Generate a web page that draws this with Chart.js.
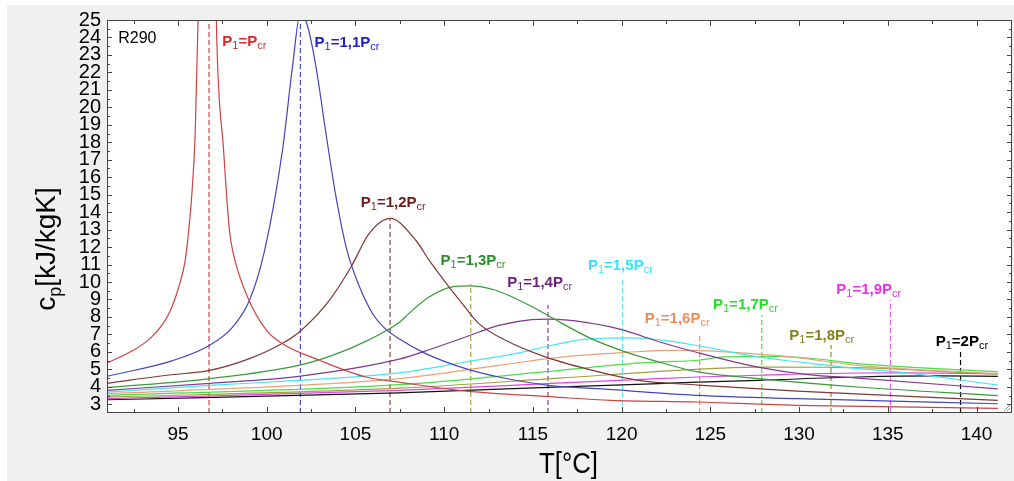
<!DOCTYPE html>
<html><head><meta charset="utf-8">
<script src="https://cdn.jsdelivr.net/npm/chart.js@4.4.1/dist/chart.umd.min.js"></script>
<style>html,body{margin:0;padding:0;background:#fff;overflow:hidden}</style>
</head><body>
<canvas id="c" width="1014" height="481" style="display:block;width:1014px;height:481px"></canvas>
<script>
const FONT = '"Liberation Sans", Arial, sans-serif';
const xMin = 91, xMax = 142, yMin = 2.5, yMax = 25;
const xTicks = [95, 100, 105, 110, 115, 120, 125, 130, 135, 140];
const yTicks = [3,4,5,6,7,8,9,10,11,12,13,14,15,16,17,18,19,20,21,22,23,24,25];
const xTitle = 'T[°C]';
const yTitleMain = 'c', yTitleSub = 'p', yTitleRest = '[kJ/kgK]';
const fluidName = 'R290';

// series: P1 = k * Pcr
const seriesNames = ['P1=Pcr','P1=1,1Pcr','P1=1,2Pcr','P1=1,3Pcr','P1=1,4Pcr','P1=1,5Pcr','P1=1,6Pcr','P1=1,7Pcr','P1=1,8Pcr','P1=1,9Pcr','P1=2Pcr'];

const tP10 = [91, 92.48, 93.42, 94.16, 94.63, 95.1, 95.4, 95.6, 95.8, 95.97, 96.13, 96.45, 96.75, 96.95, 97.16, 97.57, 97.9, 98.08, 98.92, 99.99, 100.89, 102.97, 105.59, 107.46, 110.8, 116.3, 119.4, 124.3, 129.9, 141.2];
const cpP10 = [5.36, 6.09, 6.76, 7.62, 8.5, 9.9, 11.2, 12.9, 15.3, 18.5, 25, 38, 60, 40, 25, 17.55, 12.97, 11.8, 9.14, 7.23, 6.47, 5.52, 4.56, 4.27, 3.8, 3.41, 3.22, 3.13, 2.94, 2.77];

const tP11 = [91, 94.7, 96.79, 98.08, 99.03, 99.88, 100.89, 101.45, 101.9, 102.29, 102.78, 103.34, 103.9, 104.5, 105.2, 105.96, 106.6, 107.46, 108.96, 111.21, 113.08, 115.89, 118.7, 124.3, 129.9, 141.2];
const cpP11 = [4.6, 5.5, 6.38, 7.42, 8.95, 11.8, 17.55, 22.3, 25.4, 24.7, 22.3, 18.5, 14.9, 11.9, 9.8, 8.2, 7.4, 6.75, 5.9, 5.04, 4.56, 4.08, 3.89, 3.51, 3.32, 3.03];

const tP12 = [91, 94.35, 96.79, 99.03, 100.89, 101.84, 103.53, 104.75, 105.78, 106.96, 108.4, 109.15, 110.27, 111.02, 111.96, 113.46, 115.7, 118.7, 120.94, 124.3, 129.9, 141.2];
const cpP12 = [4.2, 4.66, 4.94, 5.61, 6.49, 7.14, 8.95, 10.86, 12.78, 13.64, 12.39, 11.25, 9.72, 8.76, 7.62, 6.66, 5.71, 4.85, 4.37, 4.1, 3.75, 3.22];

const tP13 = [91, 96.8, 101.8, 103.7, 105.7, 107.5, 108.0, 109.15, 110.46, 111.4, 112.9, 114.8, 115.9, 118.2, 120.2, 122.1, 124.3, 127.7, 133.3, 141.2];
const cpP13 = [3.95, 4.47, 5.23, 5.8, 6.66, 7.71, 8.19, 9.14, 9.72, 9.78, 9.53, 8.67, 8.05, 6.8, 6.0, 5.42, 4.85, 4.47, 3.99, 3.5];

const tP14 = [91, 96.8, 101.8, 107.46, 109.31, 111.21, 113.08, 114.93, 115.9, 117.39, 119.9, 122.2, 124.31, 127.69, 130.49, 133.3, 141.2];
const cpP14 = [3.8, 4.2, 4.6, 5.58, 6.18, 6.85, 7.52, 7.85, 7.88, 7.77, 7.3, 6.55, 5.95, 5.13, 4.7, 4.5, 3.88];

const tP15 = [91, 96.8, 101.8, 107.46, 111.21, 114.0, 116.1, 117.74, 119.0, 120.55, 122.44, 124.31, 127.69, 130.0, 133.3, 135.55, 141.2];
const cpP15 = [3.7, 4.08, 4.37, 4.8, 5.42, 5.9, 6.38, 6.7, 6.78, 6.8, 6.66, 6.35, 5.71, 5.42, 5.04, 4.85, 4.1];

const tP16 = [91, 101.8, 107.46, 113.08, 116.6, 120.4, 122.8, 124.3, 125.8, 129.54, 133.3, 141.2];
const cpP16 = [3.61, 4.08, 4.47, 5.23, 5.7, 5.98, 6.09, 6.08, 6.0, 5.71, 5.23, 4.75];

const tP17 = [91, 107.46, 115.6, 120.55, 122.07, 124.31, 125.81, 128.62, 130.5, 133.3, 141.2];
const cpP17 = [3.51, 4.12, 4.85, 5.33, 5.42, 5.52, 5.71, 5.74, 5.65, 5.33, 4.85];

const tP18 = [91, 107.46, 116.5, 123.2, 127.69, 131.5, 133.3, 141.2];
const cpP18 = [3.41, 3.92, 4.5, 4.94, 5.13, 5.12, 5.1, 4.72];

const tP19 = [91, 107.46, 116.6, 122.07, 124.31, 127.69, 133.3, 136.0, 141.2];
const cpP19 = [3.32, 3.8, 4.22, 4.47, 4.56, 4.66, 4.79, 4.8, 4.75];

const tP20 = [91, 107.46, 116.6, 122.07, 124.31, 127.69, 133.3, 138.0, 141.2];
const cpP20 = [3.26, 3.65, 4.0, 4.18, 4.27, 4.37, 4.56, 4.62, 4.6];

const curveColors = ['#cc4444','#4646bc','#803838','#3a9a3a','#80398f','#44e6f0','#f0a078','#44e044','#a0a040','#e044e0','#111111'];

// vertical dashed markers at each peak temperature
const peakT   = [96.75, 101.9, 106.95, 111.5, 115.85, 120.05, 124.4, 127.9, 131.8, 135.15, 139.1];
const peakTop = [25, 25, 13.6, 9.9, 8.7, 10.3, 7.1, 8.1, 6.4, 8.95, 6.1];
const dashColors = ['#d04040','#4a4ad0','#8a4a30','#b0a040','#9040a0','#60e8f0','#f09060','#40e040','#909030','#f060f0','#000000'];

// labels
const labelT    = [97.5, 102.7, 105.3, 109.8, 113.55, 118.1, 121.3, 125.15, 129.45, 132.1, 137.7];
const labelCp   = [23.53, 23.47, 14.3, 10.96, 9.72, 10.71, 7.65, 8.48, 6.7, 9.3, 6.32];
const labelCoef = ['', '1,1', '1,2', '1,3', '1,4', '1,5', '1,6', '1,7', '1,8', '1,9', '2'];
const labelColors = ['#d42a2a','#2020c8','#6e1c1c','#2e8b2e','#6e1f7e','#30e8f8','#f08a5a','#22e022','#828224','#e830e8','#000000'];

const curveT  = [tP10,tP11,tP12,tP13,tP14,tP15,tP16,tP17,tP18,tP19,tP20];
const curveCp = [cpP10,cpP11,cpP12,cpP13,cpP14,cpP15,cpP16,cpP17,cpP18,cpP19,cpP20];

const datasets = [];
curveT.forEach((t, i) => {
  datasets.push({
    label: seriesNames[i],
    data: t.map((v, j) => ({x: v, y: curveCp[i][j]})),
    borderColor: curveColors[i], borderWidth: 1.2, pointRadius: 0,
    cubicInterpolationMode: 'monotone', fill: false
  });
});
peakT.forEach((t, i) => {
  datasets.push({
    label: seriesNames[i] + ' peak',
    data: [{x: t, y: yMin}, {x: t, y: peakTop[i]}],
    borderColor: dashColors[i], borderWidth: 1.2, borderDash: [5, 3],
    pointRadius: 0, tension: 0, fill: false
  });
});

const bgPlugin = {
  id: 'bg',
  beforeDraw(chart) {
    const {ctx, chartArea: a} = chart;
    ctx.save();
    ctx.fillStyle = '#ffffff'; ctx.fillRect(0, 0, chart.width, chart.height);
    ctx.fillStyle = '#f0f0f0'; ctx.fillRect(7, 5, chart.width - 7, chart.height - 5);
    ctx.fillStyle = '#ffffff'; ctx.fillRect(a.left, a.top, a.right - a.left, a.bottom - a.top);
    ctx.restore();
  }
};

function drawRich(ctx, x, y, parts) {
  let cx = x;
  parts.forEach(p => {
    ctx.font = p.font;
    ctx.fillText(p.t, cx, y + (p.dy || 0));
    cx += ctx.measureText(p.t).width;
  });
}

const decoPlugin = {
  id: 'deco',
  afterDraw(chart) {
    const {ctx, chartArea: a, scales: {x, y}} = chart;
    ctx.save();
    // frame
    ctx.strokeStyle = '#444'; ctx.lineWidth = 1;
    ctx.strokeRect(a.left + 0.5, a.top + 0.5, a.right - a.left - 1, a.bottom - a.top - 1);
    // x ticks (inward), majors + minors
    ctx.beginPath();
    for (let v = 92.5; v <= xMax; v += 2.5) {
      const px = Math.round(x.getPixelForValue(v)) + 0.5;
      const len = xTicks.includes(v) ? 6 : 4;
      ctx.moveTo(px, a.bottom); ctx.lineTo(px, a.bottom - len);
      ctx.moveTo(px, a.top); ctx.lineTo(px, a.top + len);
    }
    // y ticks
    for (let v = 3; v <= yMax; v += 0.5) {
      const py = Math.round(y.getPixelForValue(v)) + 0.5;
      const len = Number.isInteger(v) ? 5 : 3;
      ctx.moveTo(a.left, py); ctx.lineTo(a.left + len, py);
      ctx.moveTo(a.right, py); ctx.lineTo(a.right - len, py);
    }
    ctx.stroke();

    // curve labels
    ctx.textBaseline = 'alphabetic'; ctx.textAlign = 'left';
    labelT.forEach((t, i) => {
      ctx.fillStyle = labelColors[i];
      const px = x.getPixelForValue(t), py = y.getPixelForValue(labelCp[i]);
      drawRich(ctx, px, py, [
        {t: 'P', font: 'bold 15px ' + FONT},
        {t: '1', font: '11px ' + FONT, dy: 3},
        {t: '=' + labelCoef[i] + 'P', font: 'bold 15px ' + FONT},
        {t: 'cr', font: '11px ' + FONT, dy: 3}
      ]);
    });
    // fluid name
    ctx.fillStyle = '#000';
    ctx.font = '16px ' + FONT;
    ctx.fillText(fluidName, x.getPixelForValue(91.63), y.getPixelForValue(23.66));

    // x title
    ctx.save();
    ctx.translate((a.left + a.right) / 2 + 9, 473);
    ctx.scale(0.86, 1);
    ctx.font = '30px ' + FONT; ctx.textAlign = 'center';
    ctx.fillText(xTitle, 0, 0);
    ctx.restore();

    // y title
    ctx.save();
    ctx.translate(55, 249);
    ctx.rotate(-Math.PI / 2);
    ctx.textAlign = 'left';
    const fMain = '28px ' + FONT, fSub = '18px ' + FONT;
    ctx.font = fMain; const w1 = ctx.measureText(yTitleMain).width, w3 = ctx.measureText(yTitleRest).width;
    ctx.font = fSub; const w2 = ctx.measureText(yTitleSub).width;
    const start = -(w1 + w2 + w3) / 2;
    drawRich(ctx, start, 0, [
      {t: yTitleMain, font: fMain},
      {t: yTitleSub, font: fSub, dy: 6},
      {t: yTitleRest, font: fMain}
    ]);
    ctx.restore();

    // resize grip
    ctx.strokeStyle = '#999';
    ctx.beginPath();
    for (let k = 0; k < 3; k++) {
      ctx.moveTo(a.right - 2 - 3 * k, a.bottom - 2); ctx.lineTo(a.right - 2, a.bottom - 2 - 3 * k);
    }
    ctx.stroke();
    ctx.restore();
  }
};

new Chart(document.getElementById('c'), {
  type: 'line',
  data: {datasets},
  options: {
    responsive: false, animation: false, devicePixelRatio: 1,
    layout: {padding: {top: 20, right: 2, left: 0, bottom: 0}},
    plugins: {legend: {display: false}, tooltip: {enabled: false}},
    scales: {
      x: {
        type: 'linear', min: xMin, max: xMax,
        afterBuildTicks: s => { s.ticks = xTicks.map(v => ({value: v})); },
        afterFit: s => { s.height = 68; },
        grid: {display: false, drawTicks: false},
        border: {display: false},
        ticks: {color: '#000', font: {family: FONT, size: 19}, padding: 10, maxRotation: 0, autoSkip: false}
      },
      y: {
        type: 'linear', min: yMin, max: yMax,
        afterBuildTicks: s => { s.ticks = yTicks.map(v => ({value: v})); },
        afterFit: s => { s.width = 107; },
        grid: {display: false, drawTicks: false},
        border: {display: false},
        ticks: {color: '#000', font: {family: FONT, size: 20, lineHeight: 1}, padding: 6, autoSkip: false}
      }
    }
  },
  plugins: [bgPlugin, decoPlugin]
});
</script>
</body></html>
